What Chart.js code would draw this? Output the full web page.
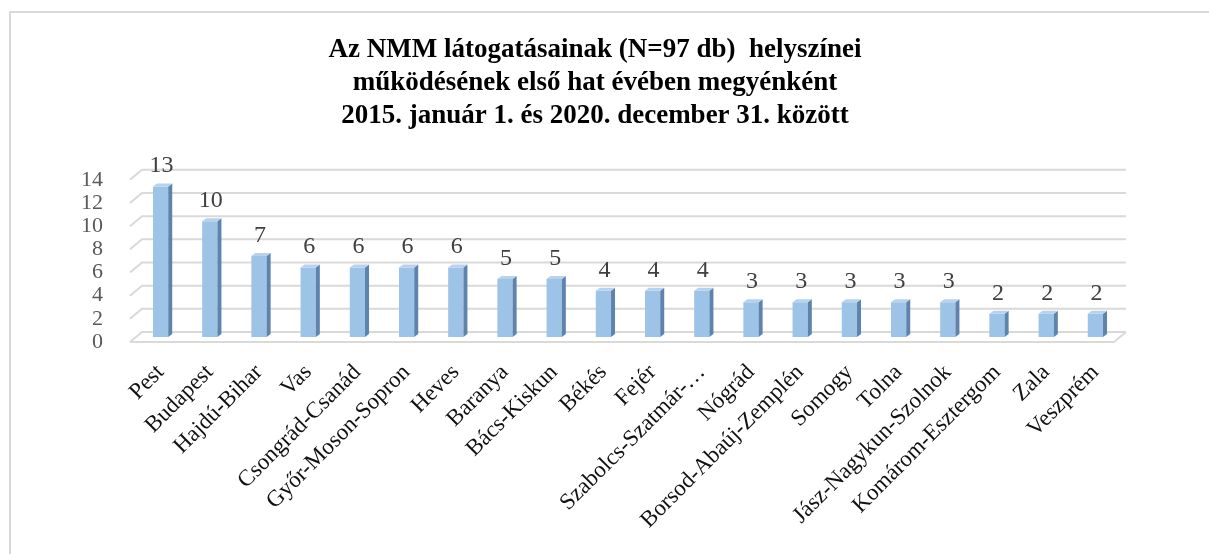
<!DOCTYPE html>
<html>
<head>
<meta charset="utf-8">
<script src="https://cdn.jsdelivr.net/npm/chart.js@4"></script>
<style>
  html, body { margin: 0; padding: 0; background: #fff; }
  #wrap { width: 1209px; height: 554px; position: relative; }
</style>
</head>
<body>
<div id="wrap"><canvas id="chart"></canvas></div>
<script>
const counties = ['Pest', 'Budapest', 'Hajdú-Bihar', 'Vas', 'Csongrád-Csanád', 'Győr-Moson-Sopron',
  'Heves', 'Baranya', 'Bács-Kiskun', 'Békés', 'Fejér', 'Szabolcs-Szatmár-…', 'Nógrád',
  'Borsod-Abaúj-Zemplén', 'Somogy', 'Tolna', 'Jász-Nagykun-Szolnok', 'Komárom-Esztergom',
  'Zala', 'Veszprém'];
const visits = [13, 10, 7, 6, 6, 6, 6, 5, 5, 4, 4, 4, 3, 3, 3, 3, 3, 2, 2, 2];
const yTicks = [0, 2, 4, 6, 8, 10, 12, 14];

const titleLines = ['Az NMM látogatásainak (N=97 db)  helyszínei', 'működésének első hat évében megyénként'];
const subtitleLine = '2015. január 1. és 2020. december 31. között';

const SERIF = '"Liberation Serif", "Times New Roman", serif';
const DX = 6, DY = 5; // fake depth of the back wall

// outer frame (only left and top edges fall inside the picture)
const framePlugin = {
  id: 'frame',
  beforeDraw(chart) {
    const ctx = chart.ctx;
    ctx.save();
    ctx.fillStyle = '#fff';
    ctx.fillRect(0, 0, chart.width, chart.height);
    ctx.strokeStyle = '#d9d9d9';
    ctx.lineWidth = 2;
    ctx.strokeRect(10, 12, chart.width + 20, chart.height + 20);
    ctx.restore();
  }
};

// back wall gridlines and floor edge
const wallPlugin = {
  id: 'wall',
  beforeDatasetsDraw(chart) {
    const ctx = chart.ctx;
    const y = chart.scales.y;
    const a = chart.chartArea;
    ctx.save();
    ctx.strokeStyle = '#d9d9d9';
    ctx.lineWidth = 2;
    yTicks.forEach(v => {
      const py = y.getPixelForValue(v);
      ctx.beginPath();
      ctx.moveTo(a.left - DX, py + DY);
      ctx.lineTo(a.left + DX, py - DY);
      ctx.lineTo(a.right + DX, py - DY);
      ctx.stroke();
    });
    const p0 = y.getPixelForValue(0);
    ctx.beginPath();
    ctx.moveTo(a.left - DX, p0 + DY);
    ctx.lineTo(a.right - DX, p0 + DY);
    ctx.lineTo(a.right + DX, p0 - DY);
    ctx.stroke();
    ctx.restore();
  }
};

// side + top faces of the columns, and the value labels
const columnPlugin = {
  id: 'columns',
  afterDatasetsDraw(chart) {
    const ctx = chart.ctx;
    const meta = chart.getDatasetMeta(0);
    ctx.save();
    meta.data.forEach((bar, i) => {
      const half = bar.width / 2;
      const l = bar.x - half, r = bar.x + half;
      const top = bar.y, bottom = bar.base;
      const d = 4, e = 3;
      ctx.fillStyle = '#5e83ad';
      ctx.beginPath();
      ctx.moveTo(r, top);
      ctx.lineTo(r + d, top - e);
      ctx.lineTo(r + d, bottom - e);
      ctx.lineTo(r, bottom);
      ctx.closePath();
      ctx.fill();
      ctx.fillStyle = '#b7d2ee';
      ctx.beginPath();
      ctx.moveTo(l, top);
      ctx.lineTo(l + d, top - e);
      ctx.lineTo(r + d, top - e);
      ctx.lineTo(r, top);
      ctx.closePath();
      ctx.fill();
      ctx.fillStyle = '#404040';
      ctx.font = '24px ' + SERIF;
      ctx.textAlign = 'center';
      ctx.textBaseline = 'alphabetic';
      ctx.fillText(String(visits[i]), bar.x + 1, top - 14);
    });
    ctx.restore();
  }
};

const ctx = document.getElementById('chart').getContext('2d');

new Chart(ctx, {
  type: 'bar',
  data: {
    labels: counties,
    datasets: [{
      data: visits,
      backgroundColor: (c) => {
        const bar = c.element;
        if (!bar || !isFinite(bar.x) || !isFinite(bar.width)) return '#9dc3e6';
        const g = c.chart.ctx.createLinearGradient(bar.x - bar.width / 2, 0, bar.x + bar.width / 2, 0);
        g.addColorStop(0, '#8fb6df');
        g.addColorStop(0.5, '#a6c9eb');
        g.addColorStop(1, '#8fb6df');
        return g;
      },
      borderWidth: 0,
      barPercentage: 0.31,
      categoryPercentage: 1
    }]
  },
  options: {
    responsive: true,
    maintainAspectRatio: false,
    animation: false,
    layout: { padding: { top: 34, left: 70, right: 89, bottom: 0 } },
    plugins: {
      legend: { display: false },
      tooltip: { enabled: false },
      title: {
        display: true,
        text: titleLines,
        color: '#000',
        font: { family: SERIF, size: 27, weight: 'bold', lineHeight: 1.22 },
        padding: { top: 0, bottom: 0 }
      },
      subtitle: {
        display: true,
        text: subtitleLine,
        color: '#000',
        font: { family: SERIF, size: 27, weight: 'bold', lineHeight: 1.22 },
        padding: { top: 0, bottom: 42 }
      }
    },
    scales: {
      x: {
        grid: { display: false },
        border: { display: false },
        afterFit: (axis) => { axis.height = 217; },
        ticks: {
          color: '#111',
          minRotation: 45,
          maxRotation: 45,
          autoSkip: false,
          padding: 14,
          font: { family: SERIF, size: 23 }
        }
      },
      y: {
        min: 0,
        max: 14,
        grid: { display: false },
        border: { display: false },
        afterFit: (axis) => { axis.width = 66; },
        afterBuildTicks: (axis) => { axis.ticks = yTicks.map(v => ({ value: v })); },
        ticks: {
          color: '#595959',
          autoSkip: false,
          padding: 25,
          labelOffset: 5,
          font: { family: SERIF, size: 22 }
        }
      }
    }
  },
  plugins: [framePlugin, wallPlugin, columnPlugin]
});
</script>
</body>
</html>
